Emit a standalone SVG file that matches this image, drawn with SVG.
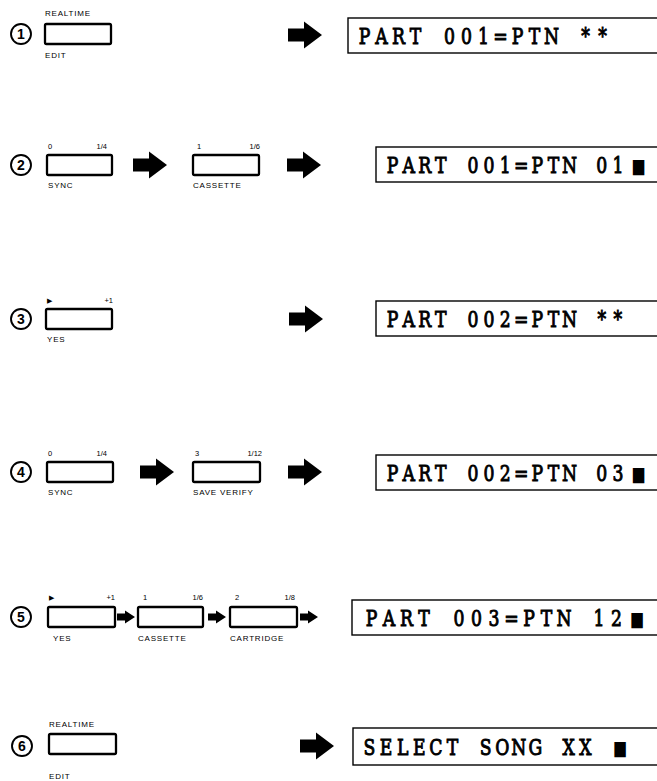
<svg xmlns="http://www.w3.org/2000/svg" width="657" height="781" viewBox="0 0 657 781">
<defs>
<style>
.btn{fill:#fff;stroke:#000;stroke-width:2.3}
.lbl{font-family:"Liberation Sans",Arial,sans-serif;font-size:8px;letter-spacing:0.8px;fill:#000}
.num{font-family:"Liberation Sans",Arial,sans-serif;font-size:7.5px;fill:#000}
.tri{font-family:"DejaVu Sans",sans-serif;font-size:7px;fill:#000}
.end{text-anchor:end}
.disp{fill:#fff;stroke:#000;stroke-width:1.4}
.lcd{font-family:"DejaVu Serif",serif;font-size:23px;fill:#000;stroke:#000;stroke-width:1;text-anchor:middle}
.sq{font-family:"DejaVu Sans",sans-serif;font-size:20px;stroke-width:0}
.ring{fill:#fff;stroke:#000;stroke-width:1.9}
.sn{font-family:"Liberation Sans",Arial,sans-serif;font-size:14px;font-weight:bold;text-anchor:middle;fill:#000}
.arr{fill:#000}
</style>
<path id="big" d="M0,-6.5 H16 V-13.5 L34,0 L16,13.5 V6.5 H0 Z"/>
<path id="small" d="M0,-3.5 H8 V-6.5 L18,0 L8,6.5 V3.5 H0 Z"/>
</defs>
<rect width="657" height="781" fill="#fff"/>

<!-- Row 1 -->
<g id="step1"><circle class="ring" cx="21" cy="34" r="10"/><text class="sn" x="21" y="39">1</text></g>
<g id="btn-realtime-1"><text class="lbl" x="45" y="16">REALTIME</text><rect class="btn" x="45" y="24" width="66" height="20" rx="1.5"/><text class="lbl" x="45" y="58">EDIT</text></g>
<g id="display1"><rect class="disp" x="348" y="18" width="400" height="35"/><text class="lcd" transform="translate(364.5,44) scale(0.75,1)" x="0 22.67 45.33 68 90.67 113.33 136 158.67 181.33 204 226.67 249.33 272 294.67 317.33">PART 001=PTN **</text></g>

<!-- Row 2 -->
<g id="step2"><circle class="ring" cx="21" cy="165" r="10"/><text class="sn" x="21" y="170">2</text></g>
<g id="btn-sync-2"><text class="num" x="48" y="149">0</text><text class="num end" x="107" y="149">1/4</text><rect class="btn" x="47" y="155" width="65" height="20" rx="1.5"/><text class="lbl" x="48" y="188">SYNC</text></g>
<g id="btn-cassette-2"><text class="num" x="197" y="149">1</text><text class="num end" x="260" y="149">1/6</text><rect class="btn" x="193" y="155" width="66" height="20" rx="1.5"/><text class="lbl" x="193" y="188">CASSETTE</text></g>
<g id="display2"><rect class="disp" x="376" y="147" width="400" height="35"/><text class="lcd" transform="translate(392.5,173) scale(0.75,1)" x="0 21.47 42.93 64.4 85.87 107.33 128.8 150.27 171.73 193.2 214.67 236.13 257.6 279.07 300.53">PART 001=PTN 01<tspan class="sq" x="328">■</tspan></text></g>

<!-- Row 3 -->
<g id="step3"><circle class="ring" cx="21" cy="319" r="10"/><text class="sn" x="21" y="324">3</text></g>
<g id="btn-yes-3"><text class="tri" x="47" y="303">▶</text><text class="num end" x="113" y="303">+1</text><rect class="btn" x="46" y="309" width="66" height="20" rx="1.5"/><text class="lbl" x="47" y="342">YES</text></g>
<g id="display3"><rect class="disp" x="376" y="301" width="400" height="35"/><text class="lcd" transform="translate(392.5,327) scale(0.75,1)" x="0 21.47 42.93 64.4 85.87 107.33 128.8 150.27 171.73 193.2 214.67 236.13 257.6 279.07 300.53">PART 002=PTN **</text></g>

<!-- Row 4 -->
<g id="step4"><circle class="ring" cx="21" cy="472" r="10"/><text class="sn" x="21" y="477">4</text></g>
<g id="btn-sync-4"><text class="num" x="48" y="456">0</text><text class="num end" x="107" y="456">1/4</text><rect class="btn" x="47" y="462" width="66" height="20" rx="1.5"/><text class="lbl" x="48" y="495">SYNC</text></g>
<g id="btn-saveverify-4"><text class="num" x="195" y="456">3</text><text class="num end" x="262" y="456">1/12</text><rect class="btn" x="193" y="462" width="67" height="20" rx="1.5"/><text class="lbl" x="193" y="495">SAVE VERIFY</text></g>
<g id="display4"><rect class="disp" x="376" y="455" width="400" height="35"/><text class="lcd" transform="translate(392.5,481) scale(0.75,1)" x="0 21.47 42.93 64.4 85.87 107.33 128.8 150.27 171.73 193.2 214.67 236.13 257.6 279.07 300.53">PART 002=PTN 03<tspan class="sq" x="328">■</tspan></text></g>

<!-- Row 5 -->
<g id="step5"><circle class="ring" cx="21" cy="617" r="10"/><text class="sn" x="21" y="622">5</text></g>
<g id="btn-yes-5"><text class="tri" x="49" y="600">▶</text><text class="num end" x="115" y="600">+1</text><rect class="btn" x="48" y="607" width="67" height="20" rx="1.5"/><text class="lbl" x="53" y="641">YES</text></g>
<g id="btn-cassette-5"><text class="num" x="143" y="600">1</text><text class="num end" x="203" y="600">1/6</text><rect class="btn" x="138" y="607" width="65" height="20" rx="1.5"/><text class="lbl" x="138" y="641">CASSETTE</text></g>
<g id="btn-cartridge-5"><text class="num" x="235" y="600">2</text><text class="num end" x="295" y="600">1/8</text><rect class="btn" x="230" y="607" width="67" height="20" rx="1.5"/><text class="lbl" x="230" y="641">CARTRIDGE</text></g>
<g id="display5"><rect class="disp" x="352" y="600" width="400" height="35"/><text class="lcd" transform="translate(371.5,626) scale(0.75,1)" x="0 23.33 46.67 70 93.33 116.67 140 163.33 186.67 210 233.33 256.67 280 303.33 326.67">PART 003=PTN 12<tspan class="sq" x="354">■</tspan></text></g>

<!-- Row 6 -->
<g id="step6"><circle class="ring" cx="22" cy="746" r="10"/><text class="sn" x="22" y="751">6</text></g>
<g id="btn-realtime-6"><text class="lbl" x="49" y="727">REALTIME</text><rect class="btn" x="49" y="734" width="67" height="20" rx="1.5"/><text class="lbl" x="49" y="779">EDIT</text></g>
<g id="display6"><rect class="disp" x="353" y="728" width="400" height="37"/><text class="lcd" transform="translate(369.5,755) scale(0.75,1)" x="0 22.13 44.27 66.4 88.53 110.67 132.8 154.93 177.07 199.2 221.33 243.47 265.6 287.73 309.87">SELECT SONG XX <tspan class="sq" x="334">■</tspan></text></g>

<g id="connectors" class="arr">
<use href="#big" x="288" y="35"/>
<use href="#big" x="133" y="165"/>
<use href="#big" x="287" y="165"/>
<use href="#big" x="289" y="319"/>
<use href="#big" x="140" y="472"/>
<use href="#big" x="288" y="472"/>
<use href="#small" x="117" y="617"/>
<use href="#small" x="208" y="617"/>
<use href="#small" x="300" y="617"/>
<use href="#big" x="300" y="746"/>
</g>
</svg>
